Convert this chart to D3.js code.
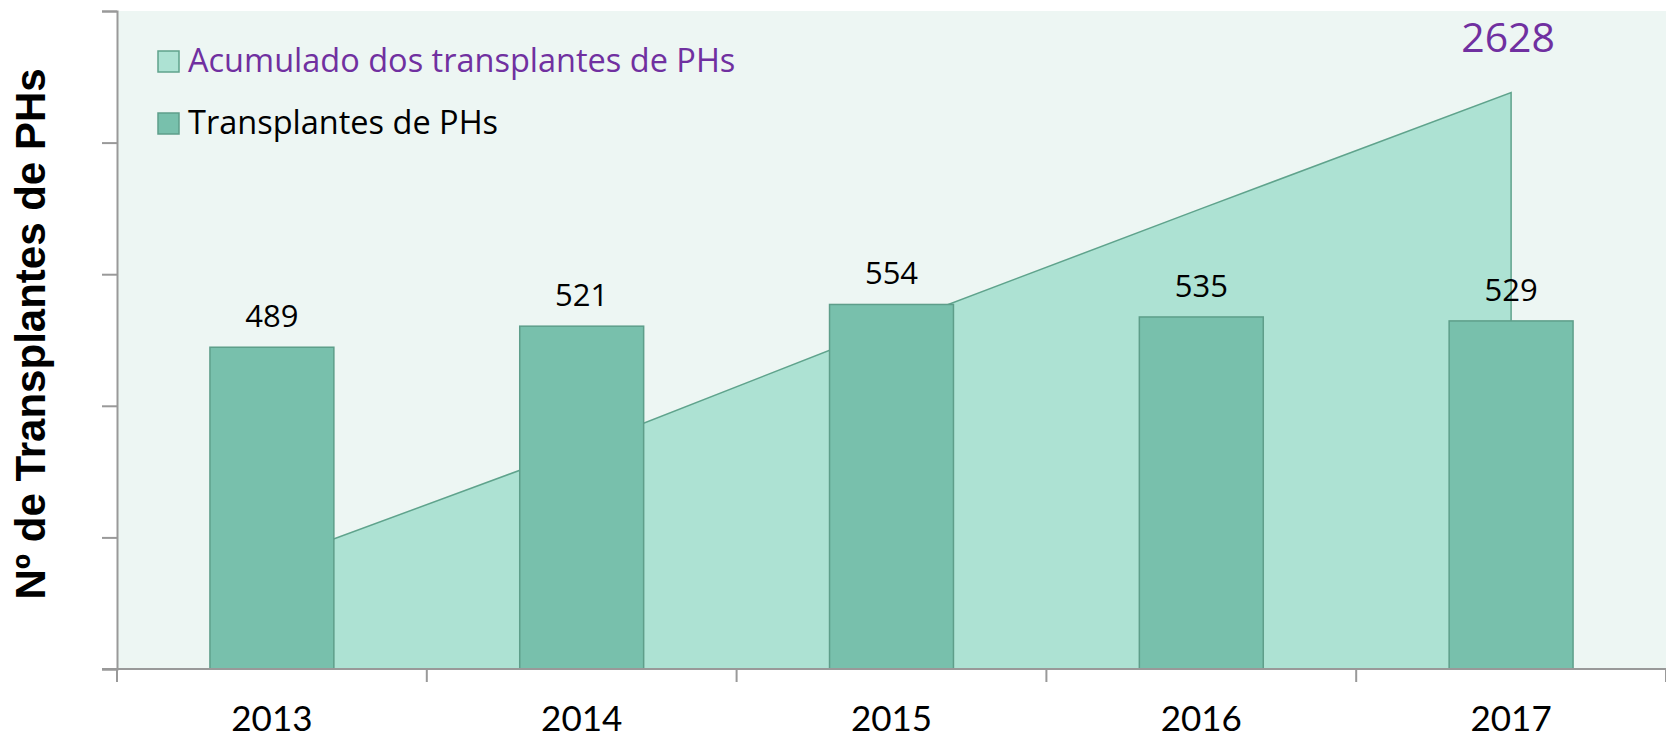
<!DOCTYPE html>
<html><head><meta charset="utf-8">
<script src="https://cdn.jsdelivr.net/npm/d3@7"></script>
<style>html,body{margin:0;padding:0;background:#fff;}svg{display:block;}</style>
</head><body>
<script>
const years = ["2013","2014","2015","2016","2017"];
const transplants = [489, 521, 554, 535, 529];
const cumulative = [489, 1010, 1564, 2099, 2628];
const yTicks = [0, 200, 400, 600, 800, 1000];
const legendLabels = ["Acumulado dos transplantes de PHs", "Transplantes de PHs"];
const yTitle = "Nº de Transplantes de PHs";

const W = 1666, H = 739;
const L = 117, R = 1666, T = 11, B = 669;
const FONT = "'Open Sans', sans-serif";

const svg = d3.select("body").append("svg").attr("width", W).attr("height", H);

const x = d3.scaleBand().domain(years).range([L, R]).paddingInner(0.6).paddingOuter(0.3);
const step = x.step();
const yBar = d3.scaleLinear().domain([0, 1000]).range([B, T]);
const yCum = d3.scaleLinear().domain([0, 3000]).range([B, T]);
const cx = d => x(d) + x.bandwidth() / 2;

// plot background
svg.append("rect").attr("x", L).attr("y", T).attr("width", R - L).attr("height", B - T).attr("fill", "#EDF6F3");

// cumulative area
const area = d3.area().x((d, i) => cx(years[i])).y0(B).y1(d => yCum(d));
svg.append("path").datum(cumulative).attr("d", area(cumulative) + "Z")
  .attr("fill", "#ADE2D3").attr("stroke", "#5FA38C").attr("stroke-width", 1.5);

// bars
svg.selectAll("rect.bar").data(transplants).join("rect").attr("class", "bar")
  .attr("x", (d, i) => x(years[i])).attr("width", x.bandwidth())
  .attr("y", d => yBar(d)).attr("height", d => B - yBar(d))
  .attr("fill", "#78C0AC").attr("stroke", "#5E9E8A").attr("stroke-width", 1.5);

// bar value labels
svg.selectAll("text.val").data(transplants).join("text").attr("class", "val")
  .attr("x", (d, i) => cx(years[i])).attr("y", d => yBar(d) - 20)
  .attr("text-anchor", "middle").attr("font-family", FONT).attr("font-size", 31)
  .attr("fill", "#000").text(d => d);

// cumulative total label
svg.append("text").attr("x", cx(years[4]) - 3).attr("y", 52)
  .attr("text-anchor", "middle").attr("font-family", FONT).attr("font-size", 41)
  .attr("fill", "#7030A0").text(cumulative[4]);

// y axis
const yAxis = d3.axisLeft(yBar).tickValues(yTicks).tickSize(15).tickFormat("");
const gy = svg.append("g").attr("transform", `translate(${L},0)`).call(yAxis);
gy.select(".domain").attr("stroke", "#999").attr("stroke-width", 2);
gy.selectAll(".tick line").attr("stroke", "#999").attr("stroke-width", 2);

// x axis baseline and category-boundary ticks
const gx = svg.append("g");
gx.append("line").attr("x1", L - 15).attr("x2", R).attr("y1", B).attr("y2", B).attr("stroke", "#999").attr("stroke-width", 2);
gx.selectAll("line.xt").data(d3.range(years.length + 1)).join("line").attr("class", "xt")
  .attr("x1", i => L + i * step).attr("x2", i => L + i * step)
  .attr("y1", B).attr("y2", B + 13).attr("stroke", "#999").attr("stroke-width", 2);

// year labels
svg.selectAll("text.year").data(years).join("text").attr("class", "year")
  .attr("x", d => cx(d)).attr("y", 731).attr("text-anchor", "middle")
  .attr("font-family", "Lato, sans-serif").attr("font-size", 35).attr("fill", "#000").text(d => d);

// y title
svg.append("text").attr("transform", "translate(45,334) rotate(-90)")
  .attr("text-anchor", "middle").attr("font-family", "'Liberation Sans', Arial, sans-serif")
  .attr("font-weight", "bold").attr("font-size", 42).attr("fill", "#000").text(yTitle);

// legend
const legFill = ["#ADE2D3", "#78C0AC"];
const legStroke = ["#5FA38C", "#5E9E8A"];
const legColor = ["#7030A0", "#000"];
const lg = svg.selectAll("g.leg").data(legendLabels).join("g").attr("class", "leg")
  .attr("transform", (d, i) => `translate(158,${51 + i * 62})`);
lg.append("rect").attr("width", 21).attr("height", 21)
  .attr("fill", (d, i) => legFill[i]).attr("stroke", (d, i) => legStroke[i]).attr("stroke-width", 1.5);
lg.append("text").attr("x", 30).attr("y", 21).attr("font-family", FONT).attr("font-size", 32.5)
  .attr("fill", (d, i) => legColor[i]).text(d => d);
</script>
</body></html>
